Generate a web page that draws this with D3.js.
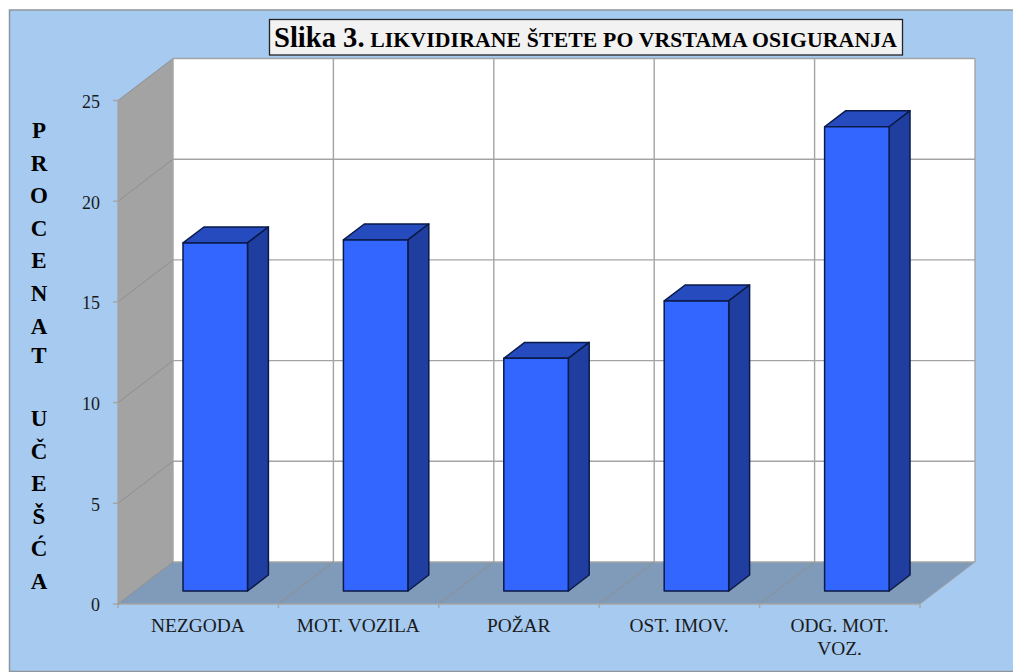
<!DOCTYPE html>
<html><head><meta charset="utf-8"><script src="https://cdn.jsdelivr.net/npm/d3@7"></script>
<style>html,body{margin:0;padding:0;background:#fff}svg{display:block}text{font-family:"Liberation Serif",serif}</style></head>
<body><svg id="c" width="1013" height="672"></svg>
<script>
const categories=["NEZGODA","MOT. VOZILA","POŽAR","OST. IMOV.","ODG. MOT.|VOZ."];
const values=[17.28,17.43,11.55,14.4,23.05];
const yTicks=[0,5,10,15,20,25];
const titleMain="Slika 3.";
const titleRest=" LIKVIDIRANE ŠTETE PO VRSTAMA OSIGURANJA";
const axisLetters=["P","R","O","C","E","N","A","T","","U","Č","E","Š","Ć","A"];

const svg=d3.select("#c");
const x=d3.scaleBand().domain(categories).range([118,920]);
const y=d3.scaleLinear().domain([0,25]).range([604,100.5]);
const DX=55,DY=-42;
const px=(xv,yv,d)=>[xv+DX*d,yv+DY*d];
const poly=(pts,fill,stroke,sw)=>svg.append("polygon").attr("points",pts.map(p=>p.join(",")).join(" "))
  .attr("fill",fill).attr("stroke",stroke||"none").attr("stroke-width",sw||0).attr("stroke-linejoin","round");
const grid="#a4a4a4";
const line=(a,b,c,w)=>svg.append("line").attr("x1",a[0]).attr("y1",a[1]).attr("x2",b[0]).attr("y2",b[1]).attr("stroke",c||grid).attr("stroke-width",w||1.4);

svg.append("rect").attr("x",9.5).attr("y",10).attr("width",1010).attr("height",661.5)
  .attr("fill","#a6caf0").attr("stroke","#8e959c").attr("stroke-width",1.5);

const L=118,R=920,B=y(0),T=y(25);
poly([px(L,T,1),px(R,T,1),px(R,B,1),px(L,B,1)],"#ffffff");
poly([px(L,T,0),px(L,T,1),px(L,B,1),px(L,B,0)],"#a3a3a3");
poly([px(L,B,0),px(R,B,0),px(R,B,1),px(L,B,1)],"#7f9bb9");

yTicks.forEach(t=>{
  line(px(L,y(t),1),px(R,y(t),1));
  if(t>0&&t<25) line(px(L,y(t),0),px(L,y(t),1),"#8f8f8f",1);
});
line(px(L,T,0),px(L,T,1),"#8f8f8f",1);
const edges=categories.map(c=>x(c)).concat([R]);
edges.forEach((e,i)=>{
  line(px(e,T,1),px(e,B,1));
  if(i>0) line(px(e,B,0),px(e,B,1),i===edges.length-1?"#a4a4a4":"#8f8f8f",1);
});
line(px(L,T,0),px(L,B,0));
line(px(L,B,0),px(R,B,0));
line(px(L,B,0),px(L,B,1),"#8f8f8f",1);

yTicks.forEach(t=>{
  line([L-5,y(t)],[L,y(t)]);
  svg.append("text").attr("x",100).attr("y",y(t)+1).attr("dy","0.35em").attr("text-anchor","end")
    .attr("font-size",18).attr("fill","#1a1a1a").text(t);
});
edges.forEach(e=>line([e,B],[e,B+4]));

const bw=64.5,d0=0.31,d1=0.69;
categories.forEach((c,i)=>{
  const xl=x(c)+x.bandwidth()/2-bw/2, xr=xl+bw, yT=y(values[i]), yB=y(0);
  const s="#0a1a48", sw=1.5;
  poly([px(xl,yT,d0),px(xr,yT,d0),px(xr,yT,d1),px(xl,yT,d1)],"#264bbf",s,sw);
  poly([px(xr,yT,d0),px(xr,yT,d1),px(xr,yB,d1),px(xr,yB,d0)],"#1f3ea0",s,sw);
  poly([px(xl,yT,d0),px(xr,yT,d0),px(xr,yB,d0),px(xl,yB,d0)],"#3366ff",s,sw);
});

categories.forEach(c=>{
  const cx=x(c)+x.bandwidth()/2-0.3;
  c.split("|").forEach((s,k)=>svg.append("text").attr("x",cx).attr("y",632+k*23).attr("text-anchor","middle")
    .attr("font-size",19.4).attr("fill","#1a1a1a").text(s));
});

const letterY=i=>i<=6?138+32.6*i:i===7?363.3:589-(14-i)*32.6;
axisLetters.forEach((l,i)=>svg.append("text").attr("x",39).attr("y",letterY(i)).attr("text-anchor","middle")
  .attr("font-size",23).attr("font-weight","bold").attr("fill","#000").text(l));

svg.append("rect").attr("x",269.5).attr("y",19.5).attr("width",633).attr("height",35.5)
  .attr("fill","#f2f2f2").attr("stroke","#222").attr("stroke-width",1.3);
const tt=svg.append("text").attr("x",585.5).attr("y",47).attr("text-anchor","middle").attr("font-weight","bold").attr("fill","#000");
tt.append("tspan").attr("font-size",28.6).text(titleMain);
tt.append("tspan").attr("font-size",21.7).attr("letter-spacing",0.15).text(titleRest);
</script></body></html>
